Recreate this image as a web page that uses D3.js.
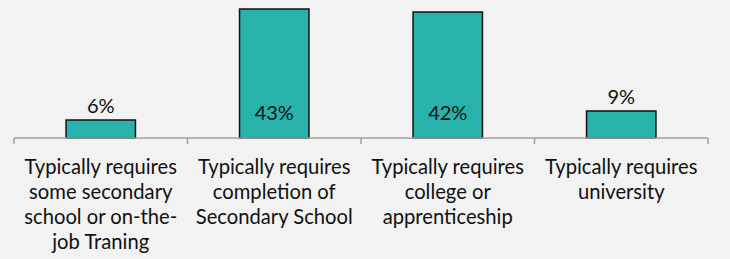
<!DOCTYPE html>
<html lang="en">
<head>
    <meta charset="UTF-8">
    <script src="https://d3js.org/d3.v7.min.js"></script>
    <style>
        body { margin: 0; background: #f2f2f2; }
        svg { display: block; font-family: Lato, "Open Sans", sans-serif; }
    </style>
</head>
<body>
    <svg id="chart" width="730" height="259"></svg>
    <script>
        const categories = ["some", "completion", "college", "university"];
        const values = [6, 43, 42, 9];
        const tickLabels = [
            ["Typically requires", "some secondary", "school or on-the-", "job Traning"],
            ["Typically requires", "completion of", "Secondary School"],
            ["Typically requires", "college or", "apprenticeship"],
            ["Typically requires", "university"]
        ];
        // labels for the tall bars sit inside, small ones above
        const insideLabel = [false, true, true, false];

        const svg = d3.select("#chart");
        const baseY = 138;

        const x = d3.scaleBand()
            .domain(categories)
            .range([14, 708])
            .paddingInner(0.6)
            .paddingOuter(0.3);

        const y = d3.scaleLinear()
            .domain([0, 45])
            .range([baseY, 3]);

        const step = x.step();

        // bars
        svg.append("g").selectAll("rect")
            .data(values)
            .enter().append("rect")
            .attr("x", (d, i) => x(categories[i]))
            .attr("y", d => y(d))
            .attr("width", x.bandwidth())
            .attr("height", d => y(0) - y(d))
            .attr("fill", "#29b1ac")
            .attr("stroke", "#111")
            .attr("stroke-width", 1.5);

        // axis line + ticks at band edges
        const axis = svg.append("g").attr("stroke", "#a0a0a0").attr("stroke-width", 1.5);
        axis.append("line")
            .attr("x1", x.range()[0]).attr("x2", x.range()[1])
            .attr("y1", baseY).attr("y2", baseY);
        d3.range(categories.length + 1).forEach(i => {
            const tx = x.range()[0] + i * step;
            axis.append("line")
                .attr("x1", tx).attr("x2", tx)
                .attr("y1", baseY).attr("y2", baseY + 6);
        });

        // value labels
        svg.append("g").selectAll("text")
            .data(values)
            .enter().append("text")
            .attr("x", (d, i) => x(categories[i]) + x.bandwidth() / 2)
            .attr("y", (d, i) => insideLabel[i] ? baseY - 18 : y(d) - 7)
            .attr("text-anchor", "middle")
            .attr("font-size", 20)
            .attr("fill", "#111")
            .text(d => d + "%");

        // category labels
        const lab = svg.append("g").selectAll("text")
            .data(tickLabels)
            .enter().append("text")
            .attr("text-anchor", "middle")
            .attr("font-size", 20.2)
            .attr("fill", "#111");
        lab.each(function (lines, i) {
            const cx = x(categories[i]) + x.bandwidth() / 2;
            d3.select(this).selectAll("tspan")
                .data(lines)
                .enter().append("tspan")
                .attr("x", cx)
                .attr("y", (l, j) => 174 + j * 25)
                .text(l => l);
        });
    </script>
</body>
</html>
